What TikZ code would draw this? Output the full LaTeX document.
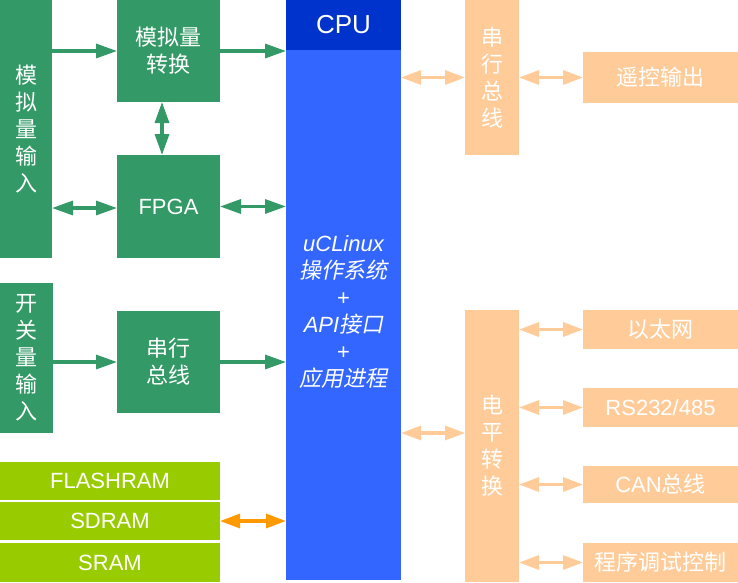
\documentclass[tikz,border=0pt]{standalone}
\usepackage{fontspec}
\setmainfont{Liberation Sans}
\newfontfamily\cjk{Noto Sans CJK SC}
\newfontfamily\cjkit[FakeSlant=0.2]{Noto Sans CJK SC}
\usetikzlibrary{arrows.meta}
\definecolor{grn}{RGB}{51,153,102}
\definecolor{lime}{RGB}{153,204,0}
\definecolor{cpub}{RGB}{51,102,255}
\definecolor{cpud}{RGB}{0,51,204}
\definecolor{peach}{RGB}{255,204,153}
\definecolor{orng}{RGB}{255,153,0}
\begin{document}
\begin{tikzpicture}[x=1pt,y=-1pt,
  blk/.style={inner sep=0pt, outer sep=0pt, text=white, align=center,
    font=\fontsize{22}{27}\selectfont\cjk},
  grbox/.style={blk, fill=grn},
  mem/.style={blk, fill=lime, minimum width=220pt},
  pbox/.style={blk, fill=peach},
  garr/.style={draw=grn, line width=3.2pt, -{Triangle[length=21pt,width=14pt]}},
  garrd/.style={draw=grn, line width=3.2pt, {Triangle[length=21pt,width=14pt]}-{Triangle[length=21pt,width=14pt]}},
  parr/.style={draw=peach, line width=3.2pt, {Triangle[length=20pt,width=14pt]}-{Triangle[length=20pt,width=14pt]}},
  oarr/.style={draw=orng, line width=3.2pt, {Triangle[length=20pt,width=14pt]}-{Triangle[length=20pt,width=14pt]}}
]
\useasboundingbox[fill=white] (0,0) rectangle (738,582);

% left green blocks
\node[grbox, minimum width=52pt, minimum height=258pt] (ain) at (26,129) {模\\拟\\量\\输\\入};
\node[grbox, minimum width=103pt, minimum height=102pt] (conv) at (168.5,51) {模拟量\\转换};
\node[grbox, minimum width=103pt, minimum height=103pt] (fpga) at (168.5,206.5) {\rmfamily FPGA};
\node[grbox, minimum width=53pt, minimum height=150pt] (din) at (26.5,358) {开\\关\\量\\输\\入};
\node[grbox, minimum width=103pt, minimum height=102pt] (sbus) at (168.5,362) {串行\\总线};

% memories
\node[mem, minimum height=38pt] (flash) at (110,481) {\rmfamily FLASHRAM};
\node[mem, minimum height=38pt] (sdram) at (110,521) {\rmfamily SDRAM};
\node[mem, minimum height=39pt] (sram) at (110,562.5) {\rmfamily SRAM};

% CPU
\node[blk, fill=cpud, minimum width=115pt, minimum height=50pt, font=\fontsize{26}{30}\selectfont\rmfamily] (cpuh) at (343.5,25) {CPU};
\node[blk, fill=cpub, minimum width=115pt, minimum height=530pt] (cpu) at (343.5,315) {};
\node[blk, text=white] (os) at (343.5,312) {{\rmfamily\itshape uCLinux}\\{\cjkit 操作系统}\\{\rmfamily +}\\{\rmfamily\itshape API}{\cjkit 接口}\\{\rmfamily +}\\{\cjkit 应用进程}};

% right peach blocks
\node[pbox, minimum width=54pt, minimum height=155pt] (rbus) at (492,77.5) {串\\行\\总\\线};
\node[pbox, minimum width=155pt, minimum height=51pt] (remote) at (660.5,77.5) {遥控输出};
\node[pbox, minimum width=54pt, minimum height=272pt] (level) at (492,446) {电\\平\\转\\换};
\node[pbox, minimum width=155pt, minimum height=39pt] (eth) at (660.5,329.5) {以太网};
\node[pbox, minimum width=155pt, minimum height=39pt] (rs) at (660.5,407.5) {\rmfamily RS232/485};
\node[pbox, minimum width=155pt, minimum height=37pt] (can) at (660.5,484.5) {{\rmfamily CAN}总线};
\node[pbox, minimum width=155pt, minimum height=39pt] (dbg) at (660.5,562.5) {程序调试控制};

% green connectors
\draw[garr] (ain.east |- conv.west) -- (conv.west);
\draw[garr] (conv.east) -- (conv.east -| cpu.west);
\draw[garrd] ([xshift=-6.5pt]conv.south) -- ([xshift=-6.5pt]fpga.north);
\draw[garrd] ([yshift=-1.5pt]ain.east |- fpga.west) -- ([yshift=-1.5pt]fpga.west);
\draw[garrd] (fpga.east) -- (fpga.east -| cpu.west);
\draw[garr] (din.east |- sbus.west) -- (sbus.west);
\draw[garr] (sbus.east) -- (sbus.east -| cpu.west);

% memory connector
\draw[oarr] (sdram.east) -- (sdram.east -| cpu.west);

% peach connectors
\draw[parr] (cpu.east |- rbus.west) -- (rbus.west);
\draw[parr] (rbus.east) -- (remote.west);
\draw[parr] ([yshift=13pt]cpu.east |- level.west) -- ([yshift=13pt]level.west);
\draw[parr] (level.east |- eth.west) -- (eth.west);
\draw[parr] (level.east |- rs.west) -- (rs.west);
\draw[parr] (level.east |- can.west) -- (can.west);
\draw[parr] (level.east |- dbg.west) -- (dbg.west);
\end{tikzpicture}
\end{document}
